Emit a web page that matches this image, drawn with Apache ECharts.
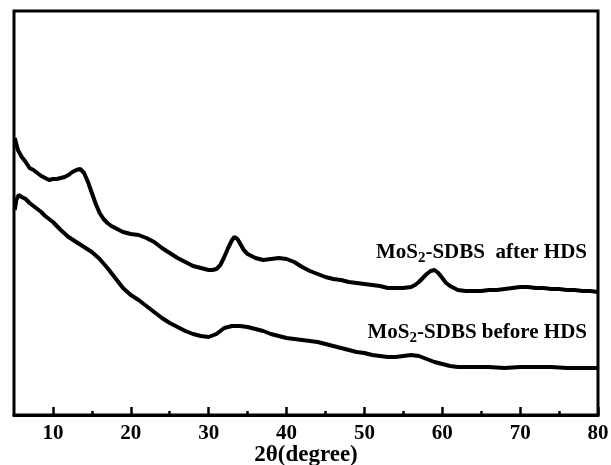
<!DOCTYPE html>
<html>
<head>
<meta charset="utf-8">
<script src="https://cdn.jsdelivr.net/npm/echarts@6/dist/echarts.min.js"></script>
<style>
  html, body { margin: 0; padding: 0; background: #fff; }
  #chart { width: 611px; height: 465px; }
</style>
</head>
<body>
<div id="chart"></div>
<script>
(function () {
    // 2θ positions and intensities (arb. units)
    var afterX = [5.1, 5.5, 6, 6.5, 7, 7.5, 8, 8.5, 9, 9.5, 10, 10.5, 11, 11.5, 12, 12.5, 13, 13.5, 14, 14.5,
        15, 15.5, 16, 16.5, 17, 17.5, 18, 19, 20, 21, 22, 23, 24, 25, 26, 27, 28, 29, 30, 30.5,
        31, 31.5, 32, 32.5, 33, 33.3, 33.7, 34, 34.5, 35, 36, 37, 38, 39, 40, 41, 42, 43, 44, 45,
        46, 47, 48, 49, 50, 51, 52, 53, 54, 55, 56, 56.5, 57, 57.5, 58, 58.5, 59, 59.5, 60, 60.5,
        61, 62, 63, 64, 65, 66, 67, 68, 69, 70, 71, 72, 73, 74, 75, 76, 77, 78, 79, 80];
    var afterY = [277, 265, 258, 253, 247, 245, 242, 239, 237, 235, 236, 236, 237, 238, 240, 243, 245, 246, 242, 233,
        222, 211, 202, 196, 192, 189, 187, 183, 181, 180, 177, 173, 167, 162, 157, 153, 149, 147, 145, 145,
        146, 150, 158, 167, 175, 178, 176, 172, 165, 161, 157, 155, 156, 157, 156, 153, 148, 144, 141, 138,
        136, 135, 133, 132, 131, 130, 129, 127, 127, 127, 128, 130, 133, 137, 141, 144, 145, 142, 137, 132,
        129, 125, 124, 124, 124, 125, 125, 126, 127, 128, 128, 127, 127, 126, 126, 125, 125, 124, 124, 123];

    var beforeX = [5.1, 5.3, 5.6, 6, 6.5, 7, 7.5, 8, 8.5, 9, 9.5, 10, 11, 12, 13, 14, 15, 16, 17, 18,
        19, 20, 21, 22, 23, 24, 25, 26, 27, 28, 29, 30, 31, 32, 33, 34, 35, 36, 37, 38,
        39, 40, 41, 42, 43, 44, 45, 46, 47, 48, 49, 50, 51, 52, 53, 54, 55, 56, 57, 58,
        59, 60, 61, 62, 64, 66, 68, 70, 72, 74, 76, 78, 80];
    var beforeY = [205, 215, 220, 218, 216, 212, 209, 206, 203, 199, 196, 193, 185, 178, 173, 168, 163, 156, 147, 137,
        127, 120, 115, 109, 103, 97, 92, 88, 84, 81, 79, 78, 81, 87, 89, 89, 88, 86, 84, 81,
        79, 77, 76, 75, 74, 73, 71, 69, 67, 65, 63, 62, 60, 59, 58, 58, 59, 60, 59, 56,
        53, 51, 49, 48, 48, 48, 47, 48, 48, 48, 47, 47, 47];

    var tickMajor = [10, 20, 30, 40, 50, 60, 70, 80];
    var tickMinor = [15, 25, 35, 45, 55, 65, 75];

    function pairs(xs, ys) {
        return xs.map(function (x, i) { return [x, ys[i]]; });
    }

    var chart = echarts.init(document.getElementById('chart'));
    var font = '"Liberation Serif", "Times New Roman", serif';

    var labelRich = {
        a: { fontFamily: font, fontWeight: 'bold', fontSize: 21, fill: '#000', lineHeight: 25 },
        s: { fontFamily: font, fontWeight: 'bold', fontSize: 15, fill: '#000', padding: [11, 0, 0, 0], lineHeight: 25 }
    };

    var option = {
        backgroundColor: '#fff',
        animation: false,
        grid: {
            left: 14,
            right: 13,
            top: 11,
            bottom: 50,
            outerBoundsMode: 'none',
            containLabel: false,
            show: true,
            borderColor: '#000',
            borderWidth: 3
        },
        xAxis: [
            {
                type: 'value',
                min: 5,
                max: 80,
                name: '2θ(degree)',
                nameLocation: 'middle',
                nameGap: 29,
                nameMoveOverlap: false,
                nameTextStyle: { fontFamily: font, fontWeight: 'bold', fontSize: 23, color: '#000' },
                axisLine: { lineStyle: { color: '#000', width: 3 } },
                axisTick: { inside: true, length: 8, customValues: tickMajor, lineStyle: { color: '#000', width: 2.5 } },
                axisLabel: { customValues: tickMajor, margin: 8, fontFamily: font, fontWeight: 'bold', fontSize: 21, color: '#000' },
                splitLine: { show: false }
            },
            {
                type: 'value',
                min: 5,
                max: 80,
                position: 'bottom',
                axisLine: { show: false },
                axisTick: { inside: true, length: 4, customValues: tickMinor, lineStyle: { color: '#000', width: 2.5 } },
                axisLabel: { show: false },
                splitLine: { show: false }
            }
        ],
        yAxis: {
            type: 'value',
            min: 0,
            max: 404,
            axisLine: { show: false },
            axisTick: { show: false },
            axisLabel: { show: false },
            splitLine: { show: false }
        },
        series: [
            {
                name: 'MoS2-SDBS after HDS',
                type: 'line',
                data: pairs(afterX, afterY),
                showSymbol: false,
                lineStyle: { color: '#000', width: 4 }
            },
            {
                name: 'MoS2-SDBS before HDS',
                type: 'line',
                data: pairs(beforeX, beforeY),
                showSymbol: false,
                lineStyle: { color: '#000', width: 4 }
            }
        ],
        graphic: [
            {
                type: 'text',
                right: 24,
                top: 240,
                style: {
                    text: '{a|MoS}{s|2}{a|-SDBS  after HDS}',
                    rich: labelRich
                }
            },
            {
                type: 'text',
                right: 24,
                top: 320,
                style: {
                    text: '{a|MoS}{s|2}{a|-SDBS before HDS}',
                    rich: labelRich
                }
            }
        ]
    };

    chart.setOption(option);
})();
</script>
</body>
</html>
